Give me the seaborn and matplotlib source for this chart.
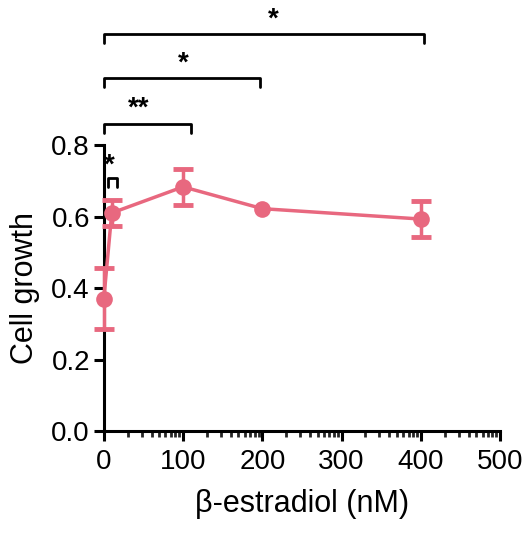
import numpy as np
import pandas as pd
import matplotlib
matplotlib.use("Agg")
import matplotlib.pyplot as plt
import seaborn as sns
from matplotlib.ticker import FixedLocator

sns.set_style("ticks")
plt.rcParams['font.family'] = ['Liberation Sans', 'DejaVu Sans']

conc = [0, 10, 100, 200, 400]
growth = [0.37, 0.61, 0.683, 0.622, 0.593]
err = [0.085, 0.037, 0.05, 0.0, 0.05]

brackets = [(5, 17, 0.708, "*"), (0, 110, 0.859, "**"), (0, 197, 0.987, "*"), (0, 404, 1.11, "*")]
star_pos = [(7.5, 0.705), (44, 0.865), (100, 0.99), (214, 1.113)]

color = "#E8687F"

fig = plt.figure(figsize=(5.27, 5.35), dpi=100)
ax = fig.add_axes([0.197, 0.194, 0.752, 0.535])

df = pd.DataFrame({"conc": conc, "growth": growth})
m = np.array(err) > 0
ax.errorbar(np.array(conc)[m], np.array(growth)[m], yerr=np.array(err)[m], fmt="none",
            ecolor=color, elinewidth=2.5, capsize=7, capthick=3.5, clip_on=False, zorder=3)
sns.lineplot(data=df, x="conc", y="growth", ax=ax, color=color, linewidth=2.5,
             marker="o", markersize=12, markeredgewidth=0, clip_on=False, zorder=4)

ax.set_xlim(0, 500)
ax.set_ylim(0, 0.8)
ax.set_yticks([0, 0.2, 0.4, 0.6, 0.8])
ax.set_yticklabels(["0.0", "0.2", "0.4", "0.6", "0.8"])
ax.set_xticks([0, 100, 200, 300, 400, 500])
minor = [b + 100 * np.log10(k) for b in range(0, 500, 100) for k in range(2, 10)]
ax.xaxis.set_minor_locator(FixedLocator(minor))

for s in ["top", "right"]:
    ax.spines[s].set_visible(False)
for s in ["left", "bottom"]:
    ax.spines[s].set_linewidth(2.2)
    ax.spines[s].set_color("black")
ax.tick_params(axis="both", which="major", length=7, width=2.2, labelsize=20,
               colors="black", labelcolor="black")
ax.tick_params(axis="x", which="major", pad=6)
ax.tick_params(axis="y", which="major", pad=3)
ax.tick_params(axis="x", which="minor", length=4, width=2.0)

ax.set_xlabel("β-estradiol (nM)", fontsize=22, labelpad=10, color="black")
ax.set_ylabel("Cell growth", fontsize=22, labelpad=8, color="black")

for (x0, x1, y, lab), (sx, sy) in zip(brackets, star_pos):
    h = 0.025
    ax.plot([x0, x0, x1, x1], [y - h, y, y, y - h], color="black", lw=2, clip_on=False,
            solid_joinstyle="round")
    ax.text(sx, sy, lab, ha="center", va="bottom", fontsize=20, fontweight="bold",
            color="black", clip_on=False)

fig.savefig("out.png", dpi=100)
